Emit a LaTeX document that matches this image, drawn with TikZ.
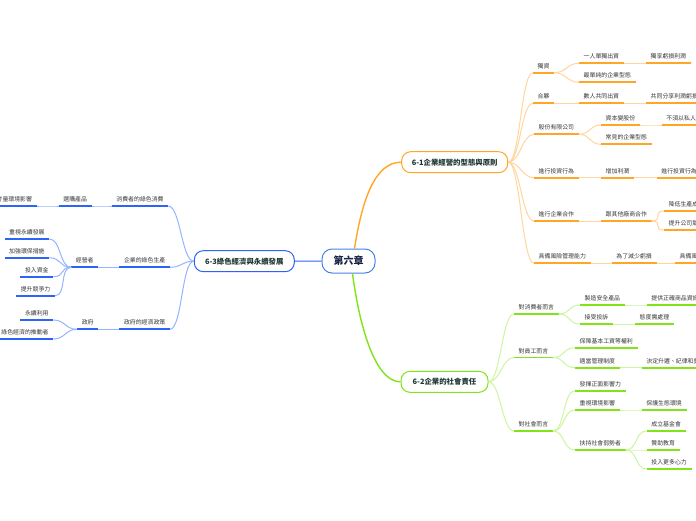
\documentclass[tikz,border=0pt]{standalone}
\usepackage{fontspec}
\newfontfamily\cjk{Noto Sans CJK TC}
\definecolor{org}{RGB}{255,166,38}
\definecolor{orgl}{RGB}{255,214,158}
\definecolor{grn}{RGB}{128,228,24}
\definecolor{grnl}{RGB}{206,245,162}
\definecolor{blu}{RGB}{45,100,245}
\definecolor{blul}{RGB}{150,180,255}
\definecolor{cbl}{RGB}{70,130,230}
\definecolor{txt}{RGB}{55,55,55}
\definecolor{hd}{RGB}{30,55,50}
\definecolor{navy}{RGB}{25,35,70}
\tikzset{
  base/.style={font=\cjk\fontsize{5.9}{6}\selectfont, text=txt, inner xsep=4.5pt, inner ysep=3.3pt, text height=5pt, text depth=1pt},
  ul/.style={append after command={(\tikzlastnode.south west) edge[draw=#1, line width=1.7pt] (\tikzlastnode.south east)}},
  olab/.style={base, anchor=south west, ul=org},
  glab/.style={base, anchor=south west, ul=grn},
  blab/.style={base, anchor=south east, ul=blu},
  ocon/.style={draw=orgl, line width=1pt},
  gcon/.style={draw=grnl, line width=1pt},
  bcon/.style={draw=blul, line width=1pt},
  rc/.style={out=0, in=180, distance=12pt},
  lc/.style={out=180, in=0, distance=12pt},
  lone/.style={rounded corners=9pt, line width=1pt, fill=white, minimum height=21pt, inner sep=0pt, font=\cjk\bfseries\fontsize{7.4}{9}\selectfont, text=hd},
  hub/.style={rounded corners=10pt, line width=1pt, draw=cbl, fill=white, minimum width=53pt, minimum height=24pt, inner sep=0pt, font=\cjk\bfseries\fontsize{10}{12}\selectfont, text=navy}
}
\begin{document}
\begin{tikzpicture}[x=1pt,y=-1pt]
\useasboundingbox (0,0) rectangle (696,520);
\clip (0,0) rectangle (696,520);
\fill[white] (0,0) rectangle (696,520);
% main nodes
\node[hub] (c) at (348.5,261) {第六章};
\node[lone, draw=org, minimum width=106pt] (n61) at (454.7,162.2) {6-1企業經營的型態與原則};
\node[lone, draw=grn, minimum width=87pt] (n62) at (444.5,381.8) {6-2企業的社會責任};
\node[lone, draw=blu, minimum width=100pt] (n63) at (244.3,261.2) {6-3綠色經濟與永續發展};
% orange
\node[olab] (o1) at (533,72.7) {獨資};
\node[olab] (o11) at (579,63.3) {一人單獨出資};
\node[olab] (o111) at (646,63.3) {獨享虧損利潤};
\node[olab] (o12) at (579,82.3) {最單純的企業型態};
\node[olab] (o2) at (533,103.3) {合夥};
\node[olab] (o21) at (579,103.3) {數人共同出資};
\node[olab] (o211) at (646,103.3) {共同分享利潤虧損};
\node[olab] (o3) at (534,134.3) {股份有限公司};
\node[olab] (o31) at (601,125) {資本變股份};
\node[olab] (o311) at (661.7,125) {不須以私人財產償還};
\node[olab] (o32) at (601,144.3) {常見的企業型態};
\node[olab] (o4) at (534,177.7) {進行投資行為};
\node[olab] (o41) at (601,177.7) {增加利潤};
\node[olab] (o411) at (656.7,177.7) {進行投資行為};
\node[olab] (o5) at (534,221) {進行企業合作};
\node[olab] (o51) at (601,221) {跟其他廠商合作};
\node[olab] (o511) at (664,211) {降低生產成本};
\node[olab] (o512) at (664,230) {提升公司競爭力};
\node[olab] (o6) at (534,263.3) {具備風險管理能力};
\node[olab] (o61) at (611.7,263.3) {為了減少虧損};
\node[olab] (o611) at (675,263.3) {具備風險意識};
% green
\node[glab] (g1) at (514,314) {對消費者而言};
\node[glab] (g11) at (580,305) {製造安全產品};
\node[glab] (g111) at (646.7,305) {提供正確商品資訊};
\node[glab] (g12) at (580,324) {接受投訴};
\node[glab] (g121) at (635,324) {態度需處理};
\node[glab] (g2) at (514,357.5) {對員工而言};
\node[glab] (g21) at (575,347.7) {保障基本工資等權利};
\node[glab] (g22) at (575,367.7) {適當管理制度};
\node[glab] (g221) at (641.7,367.7) {決定升遷、紀律和獎懲};
\node[glab] (g3) at (514,431) {對社會而言};
\node[glab] (g31) at (575,390.7) {發揮正面影響力};
\node[glab] (g32) at (575,410) {重視環境影響};
\node[glab] (g321) at (641.7,410) {保護生態環境};
\node[glab] (g33) at (575,450) {扶持社會弱勢者};
\node[glab] (g331) at (646.7,431) {成立基金會};
\node[glab] (g332) at (646.7,450) {贊助教育};
\node[glab] (g333) at (646.7,469) {投入更多心力};
% blue
\node[blab] (b1) at (168.3,206) {消費者的綠色消費};
\node[blab] (b11) at (91.7,206) {選購產品};
\node[blab] (b111) at (36.7,206) {考量環境影響};
\node[blab] (b2) at (170,267.3) {企業的綠色生產};
\node[blab] (b21) at (98.3,267.3) {經營者};
\node[blab] (b211) at (49.3,239) {重視永續發展};
\node[blab] (b212) at (49.3,257.7) {加強環保措施};
\node[blab] (b213) at (53.3,276.7) {投入資金};
\node[blab] (b214) at (55,295.7) {提升競爭力};
\node[blab] (b3) at (170,329.3) {政府的經濟政策};
\node[blab] (b31) at (98.3,329.3) {政府};
\node[blab] (b311) at (53.3,320) {永續利用};
\node[blab] (b312) at (53.3,339) {綠色經濟的推動者};
% main connectors
\draw[org, line width=1.4pt] ([xshift=6pt]c.north) .. controls (362,200) and (375,162) .. (n61.west);
\draw[grn, line width=1.4pt] ([xshift=4pt]c.south) .. controls (360,330) and (376,382) .. (n62.west);
\draw[blu, line width=1pt] (c.west) -- (n63.east);
% orange connectors
\foreach \t in {o1,o2,o3,o4,o5,o6} \draw[ocon] (n61.east) to[rc] (\t.south west);
\draw[ocon] (o1.south east) to[rc] (o11.south west);
\draw[ocon] (o1.south east) to[rc] (o12.south west);
\draw[ocon] (o11.south east) to[rc] (o111.south west);
\draw[ocon] (o2.south east) to[rc] (o21.south west);
\draw[ocon] (o21.south east) to[rc] (o211.south west);
\draw[ocon] (o3.south east) to[rc] (o31.south west);
\draw[ocon] (o3.south east) to[rc] (o32.south west);
\draw[ocon] (o31.south east) to[rc] (o311.south west);
\draw[ocon] (o4.south east) to[rc] (o41.south west);
\draw[ocon] (o41.south east) to[rc] (o411.south west);
\draw[ocon] (o5.south east) to[rc] (o51.south west);
\draw[ocon] (o51.south east) to[rc] (o511.south west);
\draw[ocon] (o51.south east) to[rc] (o512.south west);
\draw[ocon] (o6.south east) to[rc] (o61.south west);
\draw[ocon] (o61.south east) to[rc] (o611.south west);
% green connectors
\foreach \t in {g1,g2,g3} \draw[gcon] (n62.east) to[rc] (\t.south west);
\draw[gcon] (g1.south east) to[rc] (g11.south west);
\draw[gcon] (g1.south east) to[rc] (g12.south west);
\draw[gcon] (g11.south east) to[rc] (g111.south west);
\draw[gcon] (g12.south east) to[rc] (g121.south west);
\draw[gcon] (g2.south east) to[rc] (g21.south west);
\draw[gcon] (g2.south east) to[rc] (g22.south west);
\draw[gcon] (g22.south east) to[rc] (g221.south west);
\draw[gcon] (g3.south east) to[rc] (g31.south west);
\draw[gcon] (g3.south east) to[rc] (g32.south west);
\draw[gcon] (g3.south east) to[rc] (g33.south west);
\draw[gcon] (g32.south east) to[rc] (g321.south west);
\draw[gcon] (g33.south east) to[rc] (g331.south west);
\draw[gcon] (g33.south east) to[rc] (g332.south west);
\draw[gcon] (g33.south east) to[rc] (g333.south west);
% blue connectors
\foreach \t in {b1,b2,b3} \draw[bcon] (n63.west) to[lc] (\t.south east);
\draw[bcon] (b1.south west) to[lc] (b11.south east);
\draw[bcon] (b11.south west) to[lc] (b111.south east);
\draw[bcon] (b2.south west) to[lc] (b21.south east);
\foreach \t in {b211,b212,b213,b214} \draw[bcon] (b21.south west) to[lc] (\t.south east);
\draw[bcon] (b3.south west) to[lc] (b31.south east);
\draw[bcon] (b31.south west) to[lc] (b311.south east);
\draw[bcon] (b31.south west) to[lc] (b312.south east);
\end{tikzpicture}
\end{document}
